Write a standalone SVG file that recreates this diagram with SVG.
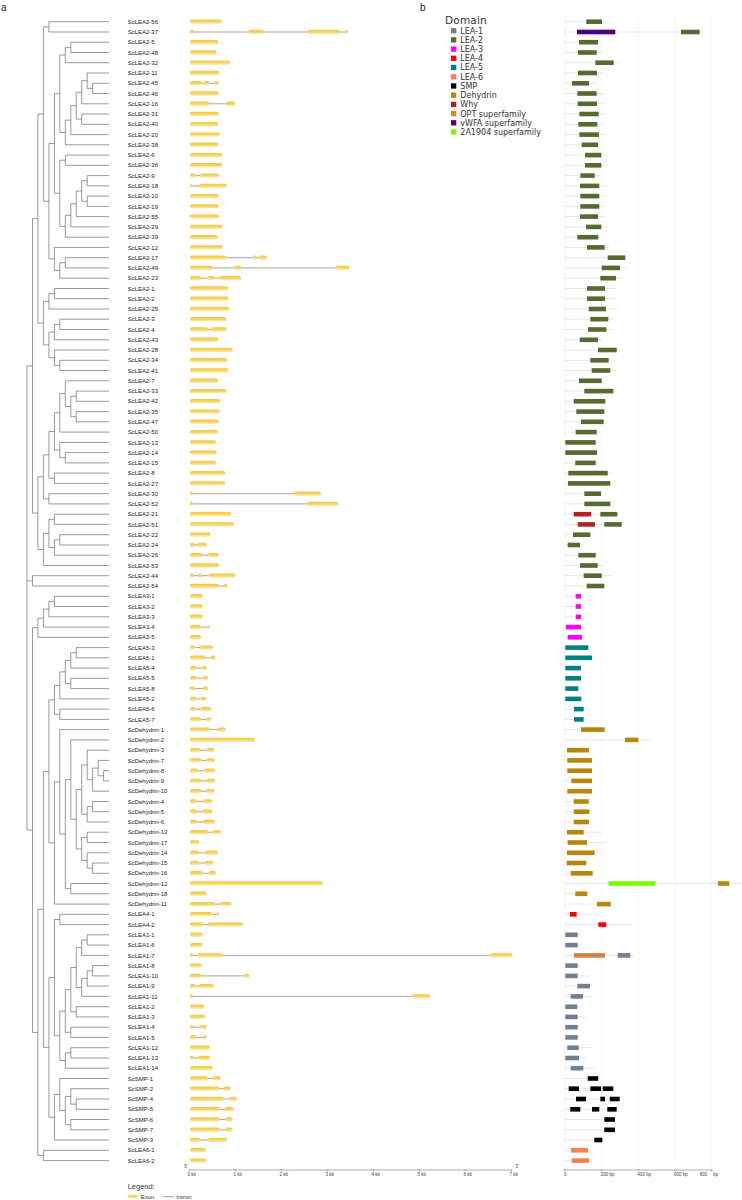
<svg xmlns="http://www.w3.org/2000/svg" width="742" height="1200" viewBox="0 0 742 1200">
<defs>
<linearGradient id="eg" x1="0" y1="0" x2="0" y2="1">
<stop offset="0" stop-color="#F2C744"/><stop offset="0.5" stop-color="#F6D564"/><stop offset="1" stop-color="#FCEFB8"/>
</linearGradient>
<style>
text{font-family:"Liberation Sans",Arial,sans-serif}
.r text{font-size:6px;fill:#222}
.e{fill:url(#eg)}
.i{stroke:#666;stroke-width:.6;fill:none}
.p{stroke:#e4e4e4;stroke-width:.9;fill:none}
.c1{fill:#708090}.c2{fill:#556B2F}.c3{fill:#FF00FF}.c4{fill:#FF0000}.c5{fill:#008080}.c6{fill:#FF7F50}.cs{fill:#000}.cd{fill:#B8860B}.wy{fill:#B22222}.co{fill:#CD853F}.vw{fill:#4B0082}.cg{fill:#7CFC00}
.tree{stroke:#555;stroke-width:.6;fill:none}
.ax{stroke:#999;stroke-width:.8;fill:none}
.tk{font-size:4.5px;fill:#444}
.grid{stroke:#efefef;stroke-width:.6;fill:none}
.lg text{font-family:"DejaVu Sans",sans-serif;font-size:8px;fill:#333}
</style>
</defs>
<rect width="742" height="1200" fill="#fff"/>
<text x="1" y="10.5" style="font-size:10px;fill:#222">a</text>
<text x="420" y="10.5" style="font-size:10px;fill:#222">b</text>
<g id="grid"><path class="grid" d="M565 14V1166M601.7 14V1166M638.3 14V1166M675 14V1166M711.7 14V1166"/></g>
<g id="tree" class="tree">
<path d="M109 21.7H48.9V32H109M109 42.2H70.8V52.5H109M70.8 47.35H65.3V62.7H109M109 83.3H92.6V93.5H109M109 73H87.2V88.4H92.6M87.2 80.7H81.7V103.8H109M109 114H81.7V124.3H109M81.7 92.25H76.2V119.15H81.7M76.2 105.7H70.8V134.6H109M70.8 120.15H65.3V144.8H109M65.3 55H59.8V132.5H65.3M109 155.1H65.3V165.3H109M109 175.6H87.2V185.9H109M109 196.1H87.2V206.4H109M87.2 180.75H81.7V201.25H87.2M81.7 191H76.2V216.6H109M76.2 203.8H70.8V226.9H109M70.8 215.35H65.3V237.2H109M65.3 160.2H59.8V226.3H65.3M59.8 93.75H54.4V193.25H59.8M109 257.7H65.3V267.9H109M65.3 262.8H59.8V278.2H109M109 247.4H54.4V270.5H59.8M54.4 143.5H48.9V258.95H54.4M48.9 26.85H43.4V201.2H48.9"/>
<path d="M109 288.5H54.4V298.7H109M54.4 293.6H48.9V309H109M109 319.2H59.8V329.5H109M59.8 324.35H54.4V339.8H109M109 360.3H59.8V370.5H109M109 350H54.4V365.4H59.8M54.4 332.1H48.9V357.7H54.4M48.9 301.3H43.4V344.9H48.9M43.4 114H37.9V323.1H43.4"/>
<path d="M109 391.1H76.2V401.3H109M109 411.6H76.2V421.8H109M76.2 396.2H70.8V416.7H76.2M109 380.8H65.3V406.45H70.8M65.3 393.6H59.8V432.1H109M109 452.6H65.3V462.9H109M109 442.4H59.8V457.75H65.3M59.8 412.85H54.4V450.1H59.8M109 473.1H54.4V483.4H109M54.4 431.5H48.9V478.25H54.4M109 493.7H48.9V503.9H109M48.9 454.9H43.4V498.8H48.9M109 514.2H54.4V524.4H109M109 534.7H59.8V545H109M59.8 539.85H54.4V555.2H109M54.4 519.3H48.9V547.5H54.4M48.9 533.4H43.4V565.5H109M43.4 476.85H37.9V549.45H43.4M37.9 218.55H32.5V513.15H37.9M109 575.7H32.5V586H109M32.5 365.85H27V830.05H32.5M27 580.9H32.5"/>
<path d="M109 596.3H54.4V606.5H109M54.4 601.4H48.9V616.8H109M48.9 609.1H43.4V627.1H109M43.4 618.1H37.9V637.3H109M109 647.6H76.2V657.8H109M76.2 652.7H70.8V668.1H109M109 678.3H70.8V688.6H109M70.8 660.4H65.3V683.45H70.8M65.3 671.9H59.8V698.9H109M109 709.1H59.8V719.4H109M59.8 685.4H54.4V714.25H59.8"/>
<path d="M109 770.7H103.6V780.9H109M109 760.4H98.1V775.8H103.6M98.1 768.1H92.6V791.2H109M109 750.2H87.2V779.65H92.6M109 801.5H92.6V811.7H109M92.6 806.6H87.2V822H109M87.2 764.9H81.7V814.3H87.2M109 832.2H87.2V842.5H109M109 863H92.6V873.3H109M109 852.8H87.2V868.15H92.6M87.2 837.35H81.7V860.5H87.2M81.7 789.6H76.2V848.9H81.7M109 739.9H70.8V819.25H76.2M109 883.5H70.8V893.8H109M70.8 779.6H65.3V888.65H70.8M109 729.6H59.8V834.1H65.3M59.8 781.85H54.4V904.1H109M54.4 699.8H48.9V842.95H54.4"/>
<path d="M109 914.3H59.8V924.6H109M109 934.8H87.2V945.1H109M87.2 939.95H81.7V955.4H109M109 965.6H92.6V975.9H109M92.6 970.75H87.2V986.1H109M87.2 978.4H81.7V996.4H109M81.7 947.7H76.2V987.4H81.7M109 1006.7H76.2V1016.9H109M76.2 967.55H70.8V1011.8H76.2M109 1027.2H70.8V1037.4H109M70.8 989.7H65.3V1032.3H70.8M109 1047.7H70.8V1058H109M70.8 1052.85H65.3V1068.2H109M65.3 1011H59.8V1060.5H65.3M59.8 919.45H54.4V1035.75H59.8M109 1099H76.2V1109.3H109M109 1088.7H70.8V1104.15H76.2M109 1119.5H70.8V1129.8H109M70.8 1096.4H65.3V1124.65H70.8M109 1078.5H59.8V1110.5H65.3M59.8 1094.5H54.4V1140H109M54.4 977.6H48.9V1117.25H54.4M48.9 771.4H43.4V1047.4H48.9M109 1150.3H43.4V1160.6H109M43.4 909.4H37.9V1155.45H43.4M37.9 627.7H32.5V1032.4H37.9"/>
</g>
<g id="rows">
<g id="ScLEA2-56" class="r" transform="translate(0,21.7)"><text x="127.7" y="2.1">ScLEA2-56</text><rect class="e" x="190" y="-2.2" width="31.7" height="4.4" rx="1.8"/><path class="p" d="M564.5 0H607.3"/><rect class="c2" x="586.3" y="-2.3" width="15.7" height="4.6"/></g>
<g id="ScLEA2-37" class="r" transform="translate(0,32)"><text x="127.7" y="2.1">ScLEA2-37</text><path class="i" d="M190 0H347.7"/><rect class="e" x="190" y="-2.2" width="4.3" height="4.4" rx="1.8"/><rect class="e" x="248.7" y="-2.2" width="15" height="4.4" rx="1.8"/><rect class="e" x="307.3" y="-2.2" width="32.4" height="4.4" rx="1.8"/><rect class="e" x="345.7" y="-2.2" width="2" height="4.4" rx="1"/><path class="p" d="M564.5 0H703.3"/><rect class="vw" x="577" y="-2.3" width="38.3" height="4.6"/><rect class="c2" x="681" y="-2.3" width="18.7" height="4.6"/></g>
<g id="ScLEA2-5" class="r" transform="translate(0,42.2)"><text x="127.7" y="2.1">ScLEA2-5</text><rect class="e" x="190" y="-2.2" width="28.3" height="4.4" rx="1.8"/><path class="p" d="M564.5 0H601.7"/><rect class="c2" x="579" y="-2.3" width="19" height="4.6"/></g>
<g id="ScLEA2-48" class="r" transform="translate(0,52.5)"><text x="127.7" y="2.1">ScLEA2-48</text><rect class="e" x="190" y="-2.2" width="26.7" height="4.4" rx="1.8"/><path class="p" d="M564.5 0H602.3"/><rect class="c2" x="578" y="-2.3" width="18.7" height="4.6"/></g>
<g id="ScLEA2-32" class="r" transform="translate(0,62.7)"><text x="127.7" y="2.1">ScLEA2-32</text><rect class="e" x="190" y="-2.2" width="40" height="4.4" rx="1.8"/><path class="p" d="M564.5 0H619.3"/><rect class="c2" x="595.3" y="-2.3" width="18.4" height="4.6"/></g>
<g id="ScLEA2-11" class="r" transform="translate(0,73)"><text x="127.7" y="2.1">ScLEA2-11</text><rect class="e" x="190" y="-2.2" width="29.3" height="4.4" rx="1.8"/><path class="p" d="M564.5 0H603.3"/><rect class="c2" x="578" y="-2.3" width="19" height="4.6"/></g>
<g id="ScLEA2-45" class="r" transform="translate(0,83.3)"><text x="127.7" y="2.1">ScLEA2-45</text><path class="i" d="M190 0H218.7"/><rect class="e" x="190" y="-2.2" width="11.7" height="4.4" rx="1.8"/><rect class="e" x="204" y="-2.2" width="5.3" height="4.4" rx="1.8"/><rect class="e" x="214.3" y="-2.2" width="4.4" height="4.4" rx="1.8"/><path class="p" d="M564.5 0H596.7"/><rect class="c2" x="572" y="-2.3" width="17" height="4.6"/></g>
<g id="ScLEA2-46" class="r" transform="translate(0,93.5)"><text x="127.7" y="2.1">ScLEA2-46</text><rect class="e" x="190" y="-2.2" width="29" height="4.4" rx="1.8"/><path class="p" d="M564.5 0H604"/><rect class="c2" x="577.3" y="-2.3" width="19.4" height="4.6"/></g>
<g id="ScLEA2-16" class="r" transform="translate(0,103.8)"><text x="127.7" y="2.1">ScLEA2-16</text><path class="i" d="M190 0H235"/><rect class="e" x="190" y="-2.2" width="19.3" height="4.4" rx="1.8"/><rect class="e" x="226" y="-2.2" width="9" height="4.4" rx="1.8"/><path class="p" d="M564.5 0H604.3"/><rect class="c2" x="577.7" y="-2.3" width="19.3" height="4.6"/></g>
<g id="ScLEA2-31" class="r" transform="translate(0,114)"><text x="127.7" y="2.1">ScLEA2-31</text><rect class="e" x="190" y="-2.2" width="28.7" height="4.4" rx="1.8"/><path class="p" d="M564.5 0H605"/><rect class="c2" x="579.3" y="-2.3" width="19.4" height="4.6"/></g>
<g id="ScLEA2-40" class="r" transform="translate(0,124.3)"><text x="127.7" y="2.1">ScLEA2-40</text><rect class="e" x="190" y="-2.2" width="28.3" height="4.4" rx="1.8"/><path class="p" d="M564.5 0H604.3"/><rect class="c2" x="578.3" y="-2.3" width="19" height="4.6"/></g>
<g id="ScLEA2-20" class="r" transform="translate(0,134.6)"><text x="127.7" y="2.1">ScLEA2-20</text><rect class="e" x="190" y="-2.2" width="30" height="4.4" rx="1.8"/><path class="p" d="M564.5 0H605.3"/><rect class="c2" x="579.3" y="-2.3" width="19.7" height="4.6"/></g>
<g id="ScLEA2-38" class="r" transform="translate(0,144.8)"><text x="127.7" y="2.1">ScLEA2-38</text><rect class="e" x="190" y="-2.2" width="28.3" height="4.4" rx="1.8"/><path class="p" d="M564.5 0H600.7"/><rect class="c2" x="581.7" y="-2.3" width="16.3" height="4.6"/></g>
<g id="ScLEA2-6" class="r" transform="translate(0,155.1)"><text x="127.7" y="2.1">ScLEA2-6</text><rect class="e" x="190" y="-2.2" width="32.3" height="4.4" rx="1.8"/><path class="p" d="M564.5 0H606.7"/><rect class="c2" x="585" y="-2.3" width="16.3" height="4.6"/></g>
<g id="ScLEA2-36" class="r" transform="translate(0,165.3)"><text x="127.7" y="2.1">ScLEA2-36</text><rect class="e" x="190" y="-2.2" width="32.3" height="4.4" rx="1.8"/><path class="p" d="M564.5 0H607.3"/><rect class="c2" x="585" y="-2.3" width="16.3" height="4.6"/></g>
<g id="ScLEA2-9" class="r" transform="translate(0,175.6)"><text x="127.7" y="2.1">ScLEA2-9</text><path class="i" d="M190 0H218.7"/><rect class="e" x="190" y="-2.2" width="6" height="4.4" rx="1.8"/><rect class="e" x="200" y="-2.2" width="18.7" height="4.4" rx="1.8"/><path class="p" d="M564.5 0H600.7"/><rect class="c2" x="580.3" y="-2.3" width="14.4" height="4.6"/></g>
<g id="ScLEA2-18" class="r" transform="translate(0,185.9)"><text x="127.7" y="2.1">ScLEA2-18</text><path class="i" d="M190 0H226.7"/><rect class="e" x="190" y="-2.2" width="1.3" height="4.4" rx=".6"/><rect class="e" x="199" y="-2.2" width="27.7" height="4.4" rx="1.8"/><path class="p" d="M564.5 0H606.7"/><rect class="c2" x="580" y="-2.3" width="19.3" height="4.6"/></g>
<g id="ScLEA2-10" class="r" transform="translate(0,196.1)"><text x="127.7" y="2.1">ScLEA2-10</text><rect class="e" x="190" y="-2.2" width="28.7" height="4.4" rx="1.8"/><path class="p" d="M564.5 0H606.7"/><rect class="c2" x="580.3" y="-2.3" width="19" height="4.6"/></g>
<g id="ScLEA2-19" class="r" transform="translate(0,206.4)"><text x="127.7" y="2.1">ScLEA2-19</text><rect class="e" x="190" y="-2.2" width="28.7" height="4.4" rx="1.8"/><path class="p" d="M564.5 0H603.7"/><rect class="c2" x="580.3" y="-2.3" width="19" height="4.6"/></g>
<g id="ScLEA2-55" class="r" transform="translate(0,216.6)"><text x="127.7" y="2.1">ScLEA2-55</text><rect class="e" x="190" y="-2.2" width="29" height="4.4" rx="1.8"/><path class="p" d="M564.5 0H603.7"/><rect class="c2" x="580" y="-2.3" width="18" height="4.6"/></g>
<g id="ScLEA2-29" class="r" transform="translate(0,226.9)"><text x="127.7" y="2.1">ScLEA2-29</text><rect class="e" x="190" y="-2.2" width="32.7" height="4.4" rx="1.8"/><path class="p" d="M564.5 0H609"/><rect class="c2" x="586" y="-2.3" width="15.3" height="4.6"/></g>
<g id="ScLEA2-39" class="r" transform="translate(0,237.2)"><text x="127.7" y="2.1">ScLEA2-39</text><rect class="e" x="190" y="-2.2" width="27.7" height="4.4" rx="1.8"/><path class="p" d="M564.5 0H601"/><rect class="c2" x="577.3" y="-2.3" width="21" height="4.6"/></g>
<g id="ScLEA2-12" class="r" transform="translate(0,247.4)"><text x="127.7" y="2.1">ScLEA2-12</text><rect class="e" x="190" y="-2.2" width="32.7" height="4.4" rx="1.8"/><path class="p" d="M564.5 0H609.3"/><rect class="c2" x="587" y="-2.3" width="17.7" height="4.6"/></g>
<g id="ScLEA2-17" class="r" transform="translate(0,257.7)"><text x="127.7" y="2.1">ScLEA2-17</text><path class="i" d="M190 0H266.7"/><rect class="e" x="190" y="-2.2" width="36" height="4.4" rx="1.8"/><rect class="e" x="254" y="-2.2" width="2.7" height="4.4" rx="1.3"/><rect class="e" x="259.3" y="-2.2" width="7.4" height="4.4" rx="1.8"/><path class="p" d="M564.5 0H626.7"/><rect class="c2" x="607.7" y="-2.3" width="17.6" height="4.6"/></g>
<g id="ScLEA2-49" class="r" transform="translate(0,267.9)"><text x="127.7" y="2.1">ScLEA2-49</text><path class="i" d="M190 0H349.3"/><rect class="e" x="190" y="-2.2" width="22.7" height="4.4" rx="1.8"/><rect class="e" x="234" y="-2.2" width="7.7" height="4.4" rx="1.8"/><rect class="e" x="336" y="-2.2" width="13.3" height="4.4" rx="1.8"/><path class="p" d="M564.5 0H626.7"/><rect class="c2" x="601.7" y="-2.3" width="18.3" height="4.6"/></g>
<g id="ScLEA2-23" class="r" transform="translate(0,278.2)"><text x="127.7" y="2.1">ScLEA2-23</text><path class="i" d="M190 0H241"/><rect class="e" x="190" y="-2.2" width="11.7" height="4.4" rx="1.8"/><rect class="e" x="207.3" y="-2.2" width="7.7" height="4.4" rx="1.8"/><rect class="e" x="219.3" y="-2.2" width="21.7" height="4.4" rx="1.8"/><path class="p" d="M564.5 0H622.3"/><rect class="c2" x="600.3" y="-2.3" width="15.7" height="4.6"/></g>
<g id="ScLEA2-1" class="r" transform="translate(0,288.5)"><text x="127.7" y="2.1">ScLEA2-1</text><rect class="e" x="190" y="-2.2" width="38.3" height="4.4" rx="1.8"/><path class="p" d="M564.5 0H616.7"/><rect class="c2" x="587" y="-2.3" width="18" height="4.6"/></g>
<g id="ScLEA2-2" class="r" transform="translate(0,298.7)"><text x="127.7" y="2.1">ScLEA2-2</text><rect class="e" x="190" y="-2.2" width="38.3" height="4.4" rx="1.8"/><path class="p" d="M564.5 0H616.7"/><rect class="c2" x="587" y="-2.3" width="18" height="4.6"/></g>
<g id="ScLEA2-25" class="r" transform="translate(0,309)"><text x="127.7" y="2.1">ScLEA2-25</text><rect class="e" x="190" y="-2.2" width="39.3" height="4.4" rx="1.8"/><path class="p" d="M564.5 0H617.7"/><rect class="c2" x="588.7" y="-2.3" width="17.3" height="4.6"/></g>
<g id="ScLEA2-3" class="r" transform="translate(0,319.2)"><text x="127.7" y="2.1">ScLEA2-3</text><rect class="e" x="190" y="-2.2" width="36.3" height="4.4" rx="1.8"/><path class="p" d="M564.5 0H613.7"/><rect class="c2" x="590.3" y="-2.3" width="18" height="4.6"/></g>
<g id="ScLEA2-4" class="r" transform="translate(0,329.5)"><text x="127.7" y="2.1">ScLEA2-4</text><path class="i" d="M190 0H226.3"/><rect class="e" x="190" y="-2.2" width="18" height="4.4" rx="1.8"/><rect class="e" x="210.7" y="-2.2" width="15.6" height="4.4" rx="1.8"/><path class="p" d="M564.5 0H611"/><rect class="c2" x="588" y="-2.3" width="18.3" height="4.6"/></g>
<g id="ScLEA2-43" class="r" transform="translate(0,339.8)"><text x="127.7" y="2.1">ScLEA2-43</text><rect class="e" x="190" y="-2.2" width="28.3" height="4.4" rx="1.8"/><path class="p" d="M564.5 0H602.7"/><rect class="c2" x="579.7" y="-2.3" width="18.3" height="4.6"/></g>
<g id="ScLEA2-28" class="r" transform="translate(0,350)"><text x="127.7" y="2.1">ScLEA2-28</text><rect class="e" x="190" y="-2.2" width="42.7" height="4.4" rx="1.8"/><path class="p" d="M564.5 0H622.3"/><rect class="c2" x="598" y="-2.3" width="18.7" height="4.6"/></g>
<g id="ScLEA2-34" class="r" transform="translate(0,360.3)"><text x="127.7" y="2.1">ScLEA2-34</text><rect class="e" x="190" y="-2.2" width="37.3" height="4.4" rx="1.8"/><path class="p" d="M564.5 0H615"/><rect class="c2" x="590.3" y="-2.3" width="18.4" height="4.6"/></g>
<g id="ScLEA2-41" class="r" transform="translate(0,370.5)"><text x="127.7" y="2.1">ScLEA2-41</text><rect class="e" x="190" y="-2.2" width="38" height="4.4" rx="1.8"/><path class="p" d="M564.5 0H616"/><rect class="c2" x="591.7" y="-2.3" width="18.6" height="4.6"/></g>
<g id="ScLEA2-7" class="r" transform="translate(0,380.8)"><text x="127.7" y="2.1">ScLEA2-7</text><rect class="e" x="190" y="-2.2" width="28" height="4.4" rx="1.8"/><path class="p" d="M564.5 0H601.7"/><rect class="c2" x="579" y="-2.3" width="22.7" height="4.6"/></g>
<g id="ScLEA2-33" class="r" transform="translate(0,391.1)"><text x="127.7" y="2.1">ScLEA2-33</text><rect class="e" x="190" y="-2.2" width="36.7" height="4.4" rx="1.8"/><path class="p" d="M564.5 0H614.3"/><rect class="c2" x="584.3" y="-2.3" width="29" height="4.6"/></g>
<g id="ScLEA2-42" class="r" transform="translate(0,401.3)"><text x="127.7" y="2.1">ScLEA2-42</text><rect class="e" x="190" y="-2.2" width="30.3" height="4.4" rx="1.8"/><path class="p" d="M564.5 0H605.7"/><rect class="c2" x="573.7" y="-2.3" width="31.6" height="4.6"/></g>
<g id="ScLEA2-35" class="r" transform="translate(0,411.6)"><text x="127.7" y="2.1">ScLEA2-35</text><rect class="e" x="190" y="-2.2" width="29.7" height="4.4" rx="1.8"/><path class="p" d="M564.5 0H605"/><rect class="c2" x="576.3" y="-2.3" width="28" height="4.6"/></g>
<g id="ScLEA2-47" class="r" transform="translate(0,421.8)"><text x="127.7" y="2.1">ScLEA2-47</text><rect class="e" x="190" y="-2.2" width="29" height="4.4" rx="1.8"/><path class="p" d="M564.5 0H604"/><rect class="c2" x="581" y="-2.3" width="22.7" height="4.6"/></g>
<g id="ScLEA2-50" class="r" transform="translate(0,432.1)"><text x="127.7" y="2.1">ScLEA2-50</text><rect class="e" x="190" y="-2.2" width="27.7" height="4.4" rx="1.8"/><path class="p" d="M564.5 0H601.7"/><rect class="c2" x="575.7" y="-2.3" width="21" height="4.6"/></g>
<g id="ScLEA2-13" class="r" transform="translate(0,442.4)"><text x="127.7" y="2.1">ScLEA2-13</text><rect class="e" x="190" y="-2.2" width="26" height="4.4" rx="1.8"/><path class="p" d="M564.5 0H599.3"/><rect class="c2" x="565.3" y="-2.3" width="30.4" height="4.6"/></g>
<g id="ScLEA2-14" class="r" transform="translate(0,452.6)"><text x="127.7" y="2.1">ScLEA2-14</text><rect class="e" x="190" y="-2.2" width="26.7" height="4.4" rx="1.8"/><path class="p" d="M564.5 0H597.7"/><rect class="c2" x="565.3" y="-2.3" width="31.7" height="4.6"/></g>
<g id="ScLEA2-15" class="r" transform="translate(0,462.9)"><text x="127.7" y="2.1">ScLEA2-15</text><rect class="e" x="190" y="-2.2" width="26" height="4.4" rx="1.8"/><path class="p" d="M564.5 0H599.3"/><rect class="c2" x="575.3" y="-2.3" width="20.4" height="4.6"/></g>
<g id="ScLEA2-8" class="r" transform="translate(0,473.1)"><text x="127.7" y="2.1">ScLEA2-8</text><rect class="e" x="190" y="-2.2" width="35.3" height="4.4" rx="1.8"/><path class="p" d="M564.5 0H612.3"/><rect class="c2" x="568.3" y="-2.3" width="39.4" height="4.6"/></g>
<g id="ScLEA2-27" class="r" transform="translate(0,483.4)"><text x="127.7" y="2.1">ScLEA2-27</text><rect class="e" x="190" y="-2.2" width="35" height="4.4" rx="1.8"/><path class="p" d="M564.5 0H611"/><rect class="c2" x="568" y="-2.3" width="42.3" height="4.6"/></g>
<g id="ScLEA2-30" class="r" transform="translate(0,493.7)"><text x="127.7" y="2.1">ScLEA2-30</text><path class="i" d="M190 0H321"/><rect class="e" x="190" y="-2.2" width="2.7" height="4.4" rx="1.3"/><rect class="e" x="294" y="-2.2" width="27" height="4.4" rx="1.8"/><path class="p" d="M564.5 0H601"/><rect class="c2" x="584.3" y="-2.3" width="16.7" height="4.6"/></g>
<g id="ScLEA2-52" class="r" transform="translate(0,503.9)"><text x="127.7" y="2.1">ScLEA2-52</text><path class="i" d="M190 0H338"/><rect class="e" x="190" y="-2.2" width="2.7" height="4.4" rx="1.3"/><rect class="e" x="307" y="-2.2" width="31" height="4.4" rx="1.8"/><path class="p" d="M564.5 0H610.3"/><rect class="c2" x="584.3" y="-2.3" width="26" height="4.6"/></g>
<g id="ScLEA2-21" class="r" transform="translate(0,514.2)"><text x="127.7" y="2.1">ScLEA2-21</text><rect class="e" x="190" y="-2.2" width="41.3" height="4.4" rx="1.8"/><path class="p" d="M564.5 0H618.3"/><rect class="wy" x="573.7" y="-2.3" width="17.6" height="4.6"/><rect class="c2" x="600.3" y="-2.3" width="17" height="4.6"/></g>
<g id="ScLEA2-51" class="r" transform="translate(0,524.4)"><text x="127.7" y="2.1">ScLEA2-51</text><rect class="e" x="190" y="-2.2" width="44" height="4.4" rx="1.8"/><path class="p" d="M564.5 0H621.7"/><rect class="wy" x="577.7" y="-2.3" width="17.3" height="4.6"/><rect class="c2" x="604.3" y="-2.3" width="17.4" height="4.6"/></g>
<g id="ScLEA2-22" class="r" transform="translate(0,534.7)"><text x="127.7" y="2.1">ScLEA2-22</text><rect class="e" x="190" y="-2.2" width="20.3" height="4.4" rx="1.8"/><path class="p" d="M564.5 0H591.7"/><rect class="c2" x="573" y="-2.3" width="17.3" height="4.6"/></g>
<g id="ScLEA2-24" class="r" transform="translate(0,545)"><text x="127.7" y="2.1">ScLEA2-24</text><path class="i" d="M190 0H206.7"/><rect class="e" x="190" y="-2.2" width="4.7" height="4.4" rx="1.8"/><rect class="e" x="197" y="-2.2" width="9.7" height="4.4" rx="1.8"/><path class="p" d="M564.5 0H585"/><rect class="c2" x="567.7" y="-2.3" width="12.3" height="4.6"/></g>
<g id="ScLEA2-26" class="r" transform="translate(0,555.2)"><text x="127.7" y="2.1">ScLEA2-26</text><path class="i" d="M190 0H218.7"/><rect class="e" x="190" y="-2.2" width="12.7" height="4.4" rx="1.8"/><rect class="e" x="208" y="-2.2" width="10.7" height="4.4" rx="1.8"/><path class="p" d="M564.5 0H598.3"/><rect class="c2" x="578.3" y="-2.3" width="17.4" height="4.6"/></g>
<g id="ScLEA2-53" class="r" transform="translate(0,565.5)"><text x="127.7" y="2.1">ScLEA2-53</text><rect class="e" x="190" y="-2.2" width="29.3" height="4.4" rx="1.8"/><path class="p" d="M564.5 0H604.3"/><rect class="c2" x="580" y="-2.3" width="17.7" height="4.6"/></g>
<g id="ScLEA2-44" class="r" transform="translate(0,575.7)"><text x="127.7" y="2.1">ScLEA2-44</text><path class="i" d="M190 0H235.3"/><rect class="e" x="190" y="-2.2" width="4" height="4.4" rx="1.8"/><rect class="e" x="198.3" y="-2.2" width="3.4" height="4.4" rx="1.6"/><rect class="e" x="208.7" y="-2.2" width="26.6" height="4.4" rx="1.8"/><path class="p" d="M564.5 0H611.7"/><rect class="c2" x="583.7" y="-2.3" width="18" height="4.6"/></g>
<g id="ScLEA2-54" class="r" transform="translate(0,586)"><text x="127.7" y="2.1">ScLEA2-54</text><path class="i" d="M190 0H227.3"/><rect class="e" x="190" y="-2.2" width="28.7" height="4.4" rx="1.8"/><rect class="e" x="224" y="-2.2" width="3.3" height="4.4" rx="1.6"/><path class="p" d="M564.5 0H608.3"/><rect class="c2" x="586.7" y="-2.3" width="17.6" height="4.6"/></g>
<g id="ScLEA3-1" class="r" transform="translate(0,596.3)"><text x="127.7" y="2.1">ScLEA3-1</text><rect class="e" x="190" y="-2.2" width="12.7" height="4.4" rx="1.8"/><path class="p" d="M564.5 0H581"/><rect class="c3" x="575.7" y="-2.3" width="5.3" height="4.6"/></g>
<g id="ScLEA3-2" class="r" transform="translate(0,606.5)"><text x="127.7" y="2.1">ScLEA3-2</text><rect class="e" x="190" y="-2.2" width="12.7" height="4.4" rx="1.8"/><path class="p" d="M564.5 0H581"/><rect class="c3" x="575.7" y="-2.3" width="5.3" height="4.6"/></g>
<g id="ScLEA3-3" class="r" transform="translate(0,616.8)"><text x="127.7" y="2.1">ScLEA3-3</text><rect class="e" x="190" y="-2.2" width="12.7" height="4.4" rx="1.8"/><path class="p" d="M564.5 0H581"/><rect class="c3" x="575.7" y="-2.3" width="5.3" height="4.6"/></g>
<g id="ScLEA3-4" class="r" transform="translate(0,627.1)"><text x="127.7" y="2.1">ScLEA3-4</text><path class="i" d="M190 0H209.3"/><rect class="e" x="190" y="-2.2" width="10.7" height="4.4" rx="1.8"/><rect class="e" x="208" y="-2.2" width="1.3" height="4.4" rx=".6"/><path class="p" d="M564.5 0H581.7"/><rect class="c3" x="566" y="-2.3" width="15" height="4.6"/></g>
<g id="ScLEA3-5" class="r" transform="translate(0,637.3)"><text x="127.7" y="2.1">ScLEA3-5</text><rect class="e" x="190" y="-2.2" width="11" height="4.4" rx="1.8"/><path class="p" d="M564.5 0H582"/><rect class="c3" x="567.7" y="-2.3" width="14.3" height="4.6"/></g>
<g id="ScLEA5-3" class="r" transform="translate(0,647.6)"><text x="127.7" y="2.1">ScLEA5-3</text><path class="i" d="M190 0H212.7"/><rect class="e" x="190" y="-2.2" width="4.7" height="4.4" rx="1.8"/><rect class="e" x="200" y="-2.2" width="12.7" height="4.4" rx="1.8"/><path class="p" d="M564.5 0H588.3"/><rect class="c5" x="565.3" y="-2.3" width="23" height="4.6"/></g>
<g id="ScLEA5-1" class="r" transform="translate(0,657.8)"><text x="127.7" y="2.1">ScLEA5-1</text><path class="i" d="M190 0H215.3"/><rect class="e" x="190" y="-2.2" width="15.3" height="4.4" rx="1.8"/><rect class="e" x="210.7" y="-2.2" width="4.6" height="4.4" rx="1.8"/><path class="p" d="M564.5 0H592"/><rect class="c5" x="565.3" y="-2.3" width="26.7" height="4.6"/></g>
<g id="ScLEA5-4" class="r" transform="translate(0,668.1)"><text x="127.7" y="2.1">ScLEA5-4</text><path class="i" d="M190 0H206.7"/><rect class="e" x="190" y="-2.2" width="7" height="4.4" rx="1.8"/><rect class="e" x="201.7" y="-2.2" width="5" height="4.4" rx="1.8"/><path class="p" d="M564.5 0H581"/><rect class="c5" x="565.3" y="-2.3" width="15.7" height="4.6"/></g>
<g id="ScLEA5-5" class="r" transform="translate(0,678.3)"><text x="127.7" y="2.1">ScLEA5-5</text><path class="i" d="M190 0H208"/><rect class="e" x="190" y="-2.2" width="7.3" height="4.4" rx="1.8"/><rect class="e" x="202.7" y="-2.2" width="5.3" height="4.4" rx="1.8"/><path class="p" d="M564.5 0H581"/><rect class="c5" x="565.3" y="-2.3" width="15.7" height="4.6"/></g>
<g id="ScLEA5-8" class="r" transform="translate(0,688.6)"><text x="127.7" y="2.1">ScLEA5-8</text><path class="i" d="M190 0H208"/><rect class="e" x="190" y="-2.2" width="4.7" height="4.4" rx="1.8"/><rect class="e" x="202.7" y="-2.2" width="5.3" height="4.4" rx="1.8"/><path class="p" d="M564.5 0H578.3"/><rect class="c5" x="565.3" y="-2.3" width="13" height="4.6"/></g>
<g id="ScLEA5-2" class="r" transform="translate(0,698.9)"><text x="127.7" y="2.1">ScLEA5-2</text><path class="i" d="M190 0H206"/><rect class="e" x="190" y="-2.2" width="7" height="4.4" rx="1.8"/><rect class="e" x="201" y="-2.2" width="5" height="4.4" rx="1.8"/><path class="p" d="M564.5 0H581.3"/><rect class="c5" x="565.3" y="-2.3" width="16" height="4.6"/></g>
<g id="ScLEA5-6" class="r" transform="translate(0,709.1)"><text x="127.7" y="2.1">ScLEA5-6</text><path class="i" d="M190 0H211.3"/><rect class="e" x="190" y="-2.2" width="5.3" height="4.4" rx="1.8"/><rect class="e" x="200.7" y="-2.2" width="10.6" height="4.4" rx="1.8"/><path class="p" d="M564.5 0H590"/><rect class="c5" x="574" y="-2.3" width="9.7" height="4.6"/></g>
<g id="ScLEA5-7" class="r" transform="translate(0,719.4)"><text x="127.7" y="2.1">ScLEA5-7</text><path class="i" d="M190 0H211.3"/><rect class="e" x="190" y="-2.2" width="11" height="4.4" rx="1.8"/><rect class="e" x="206" y="-2.2" width="5.3" height="4.4" rx="1.8"/><path class="p" d="M564.5 0H586.7"/><rect class="c5" x="574" y="-2.3" width="9.7" height="4.6"/></g>
<g id="ScDehydrin-1" class="r" transform="translate(0,729.6)"><text x="127.7" y="2.1">ScDehydrin-1</text><path class="i" d="M190 0H225.7"/><rect class="e" x="190" y="-2.2" width="20" height="4.4" rx="1.8"/><rect class="e" x="217" y="-2.2" width="8.7" height="4.4" rx="1.8"/><path class="p" d="M564.5 0H604.7"/><rect class="cd" x="581" y="-2.3" width="23.7" height="4.6"/></g>
<g id="ScDehydrin-2" class="r" transform="translate(0,739.9)"><text x="127.7" y="2.1">ScDehydrin-2</text><rect class="e" x="190" y="-2.2" width="65" height="4.4" rx="1.8"/><path class="p" d="M564.5 0H652.3"/><rect class="cd" x="625" y="-2.3" width="13.3" height="4.6"/></g>
<g id="ScDehydrin-3" class="r" transform="translate(0,750.2)"><text x="127.7" y="2.1">ScDehydrin-3</text><path class="i" d="M190 0H214"/><rect class="e" x="190" y="-2.2" width="10" height="4.4" rx="1.8"/><rect class="e" x="206.7" y="-2.2" width="7.3" height="4.4" rx="1.8"/><path class="p" d="M564.5 0H589"/><rect class="cd" x="567" y="-2.3" width="22" height="4.6"/></g>
<g id="ScDehydrin-7" class="r" transform="translate(0,760.4)"><text x="127.7" y="2.1">ScDehydrin-7</text><path class="i" d="M190 0H215"/><rect class="e" x="190" y="-2.2" width="11.7" height="4.4" rx="1.8"/><rect class="e" x="206.7" y="-2.2" width="8.3" height="4.4" rx="1.8"/><path class="p" d="M564.5 0H592"/><rect class="cd" x="567.3" y="-2.3" width="24.7" height="4.6"/></g>
<g id="ScDehydrin-8" class="r" transform="translate(0,770.7)"><text x="127.7" y="2.1">ScDehydrin-8</text><path class="i" d="M190 0H215"/><rect class="e" x="190" y="-2.2" width="8.3" height="4.4" rx="1.8"/><rect class="e" x="204" y="-2.2" width="11" height="4.4" rx="1.8"/><path class="p" d="M564.5 0H592"/><rect class="cd" x="567.3" y="-2.3" width="24.7" height="4.6"/></g>
<g id="ScDehydrin-9" class="r" transform="translate(0,780.9)"><text x="127.7" y="2.1">ScDehydrin-9</text><path class="i" d="M190 0H215"/><rect class="e" x="190" y="-2.2" width="11.3" height="4.4" rx="1.8"/><rect class="e" x="206.7" y="-2.2" width="8.3" height="4.4" rx="1.8"/><path class="p" d="M564.5 0H592"/><rect class="cd" x="571.3" y="-2.3" width="20.7" height="4.6"/></g>
<g id="ScDehydrin-10" class="r" transform="translate(0,791.2)"><text x="127.7" y="2.1">ScDehydrin-10</text><path class="i" d="M190 0H214.3"/><rect class="e" x="190" y="-2.2" width="11.3" height="4.4" rx="1.8"/><rect class="e" x="206" y="-2.2" width="8.3" height="4.4" rx="1.8"/><path class="p" d="M564.5 0H592"/><rect class="cd" x="567.3" y="-2.3" width="24.7" height="4.6"/></g>
<g id="ScDehydrin-4" class="r" transform="translate(0,801.5)"><text x="127.7" y="2.1">ScDehydrin-4</text><path class="i" d="M190 0H212"/><rect class="e" x="190" y="-2.2" width="7.3" height="4.4" rx="1.8"/><rect class="e" x="202.7" y="-2.2" width="9.3" height="4.4" rx="1.8"/><path class="p" d="M564.5 0H591"/><rect class="cd" x="573.7" y="-2.3" width="15" height="4.6"/></g>
<g id="ScDehydrin-5" class="r" transform="translate(0,811.7)"><text x="127.7" y="2.1">ScDehydrin-5</text><path class="i" d="M190 0H212.3"/><rect class="e" x="190" y="-2.2" width="7.7" height="4.4" rx="1.8"/><rect class="e" x="202" y="-2.2" width="10.3" height="4.4" rx="1.8"/><path class="p" d="M564.5 0H591.7"/><rect class="cd" x="573.7" y="-2.3" width="15.6" height="4.6"/></g>
<g id="ScDehydrin-6" class="r" transform="translate(0,822)"><text x="127.7" y="2.1">ScDehydrin-6</text><path class="i" d="M190 0H214.7"/><rect class="e" x="190" y="-2.2" width="7.3" height="4.4" rx="1.8"/><rect class="e" x="202.7" y="-2.2" width="12" height="4.4" rx="1.8"/><path class="p" d="M564.5 0H591"/><rect class="cd" x="573.7" y="-2.3" width="15.3" height="4.6"/></g>
<g id="ScDehydrin-13" class="r" transform="translate(0,832.2)"><text x="127.7" y="2.1">ScDehydrin-13</text><path class="i" d="M190 0H220.7"/><rect class="e" x="190" y="-2.2" width="18" height="4.4" rx="1.8"/><rect class="e" x="212.3" y="-2.2" width="8.4" height="4.4" rx="1.8"/><path class="p" d="M564.5 0H602.3"/><rect class="cd" x="567" y="-2.3" width="16.7" height="4.6"/></g>
<g id="ScDehydrin-17" class="r" transform="translate(0,842.5)"><text x="127.7" y="2.1">ScDehydrin-17</text><rect class="e" x="190" y="-2.2" width="9.3" height="4.4" rx="1.8"/><path class="p" d="M564.5 0H606.7"/><rect class="cd" x="567.7" y="-2.3" width="19.3" height="4.6"/></g>
<g id="ScDehydrin-14" class="r" transform="translate(0,852.8)"><text x="127.7" y="2.1">ScDehydrin-14</text><path class="i" d="M190 0H217.7"/><rect class="e" x="190" y="-2.2" width="9" height="4.4" rx="1.8"/><rect class="e" x="204.7" y="-2.2" width="13" height="4.4" rx="1.8"/><path class="p" d="M564.5 0H597"/><rect class="cd" x="567" y="-2.3" width="27.7" height="4.6"/></g>
<g id="ScDehydrin-15" class="r" transform="translate(0,863)"><text x="127.7" y="2.1">ScDehydrin-15</text><path class="i" d="M190 0H213.3"/><rect class="e" x="190" y="-2.2" width="9" height="4.4" rx="1.8"/><rect class="e" x="204.7" y="-2.2" width="8.6" height="4.4" rx="1.8"/><path class="p" d="M564.5 0H588.3"/><rect class="cd" x="566.7" y="-2.3" width="19.6" height="4.6"/></g>
<g id="ScDehydrin-16" class="r" transform="translate(0,873.3)"><text x="127.7" y="2.1">ScDehydrin-16</text><path class="i" d="M190 0H216"/><rect class="e" x="190" y="-2.2" width="12.7" height="4.4" rx="1.8"/><rect class="e" x="208.7" y="-2.2" width="7.3" height="4.4" rx="1.8"/><path class="p" d="M564.5 0H593"/><rect class="cd" x="570.7" y="-2.3" width="22" height="4.6"/></g>
<g id="ScDehydrin-12" class="r" transform="translate(0,883.5)"><text x="127.7" y="2.1">ScDehydrin-12</text><rect class="e" x="190" y="-2.2" width="132.7" height="4.4" rx="1.8"/><path class="p" d="M564.5 0H741.7"/><rect class="cg" x="608.7" y="-2.3" width="46.6" height="4.6"/><rect class="cd" x="718" y="-2.3" width="11.3" height="4.6"/></g>
<g id="ScDehydrin-18" class="r" transform="translate(0,893.8)"><text x="127.7" y="2.1">ScDehydrin-18</text><rect class="e" x="190" y="-2.2" width="16.7" height="4.4" rx="1.8"/><path class="p" d="M564.5 0H587.3"/><rect class="cd" x="575.3" y="-2.3" width="12" height="4.6"/></g>
<g id="ScDehydrin-11" class="r" transform="translate(0,904.1)"><text x="127.7" y="2.1">ScDehydrin-11</text><path class="i" d="M190 0H231.3"/><rect class="e" x="190" y="-2.2" width="25" height="4.4" rx="1.8"/><rect class="e" x="220" y="-2.2" width="11.3" height="4.4" rx="1.8"/><path class="p" d="M564.5 0H613.3"/><rect class="cd" x="597" y="-2.3" width="13.7" height="4.6"/></g>
<g id="ScLEA4-1" class="r" transform="translate(0,914.3)"><text x="127.7" y="2.1">ScLEA4-1</text><path class="i" d="M190 0H218.7"/><rect class="e" x="190" y="-2.2" width="22" height="4.4" rx="1.8"/><rect class="e" x="217" y="-2.2" width="1.7" height="4.4" rx=".8"/><path class="p" d="M564.5 0H597.7"/><rect class="c4" x="570" y="-2.3" width="6.7" height="4.6"/></g>
<g id="ScLEA4-2" class="r" transform="translate(0,924.6)"><text x="127.7" y="2.1">ScLEA4-2</text><path class="i" d="M190 0H243"/><rect class="e" x="190" y="-2.2" width="13.3" height="4.4" rx="1.8"/><rect class="e" x="207.7" y="-2.2" width="35.3" height="4.4" rx="1.8"/><path class="p" d="M564.5 0H631.7"/><rect class="c4" x="598.3" y="-2.3" width="8" height="4.6"/></g>
<g id="ScLEA1-1" class="r" transform="translate(0,934.8)"><text x="127.7" y="2.1">ScLEA1-1</text><rect class="e" x="190" y="-2.2" width="12.7" height="4.4" rx="1.8"/><path class="p" d="M564.5 0H581.7"/><rect class="c1" x="565.3" y="-2.3" width="12.4" height="4.6"/></g>
<g id="ScLEA1-6" class="r" transform="translate(0,945.1)"><text x="127.7" y="2.1">ScLEA1-6</text><rect class="e" x="190" y="-2.2" width="12.7" height="4.4" rx="1.8"/><path class="p" d="M564.5 0H581.7"/><rect class="c1" x="565.3" y="-2.3" width="12.4" height="4.6"/></g>
<g id="ScLEA1-7" class="r" transform="translate(0,955.4)"><text x="127.7" y="2.1">ScLEA1-7</text><path class="i" d="M190 0H512.3"/><rect class="e" x="190" y="-2.2" width="2.7" height="4.4" rx="1.3"/><rect class="e" x="197.3" y="-2.2" width="25.4" height="4.4" rx="1.8"/><rect class="e" x="490.3" y="-2.2" width="22" height="4.4" rx="1.8"/><path class="p" d="M564.5 0H634.3"/><rect class="co" x="574" y="-2.3" width="31" height="4.6"/><rect class="c1" x="617.7" y="-2.3" width="12.6" height="4.6"/></g>
<g id="ScLEA1-8" class="r" transform="translate(0,965.6)"><text x="127.7" y="2.1">ScLEA1-8</text><rect class="e" x="190" y="-2.2" width="11.7" height="4.4" rx="1.8"/><path class="p" d="M564.5 0H580"/><rect class="c1" x="565.3" y="-2.3" width="12.4" height="4.6"/></g>
<g id="ScLEA1-10" class="r" transform="translate(0,975.9)"><text x="127.7" y="2.1">ScLEA1-10</text><path class="i" d="M190 0H249.3"/><rect class="e" x="190" y="-2.2" width="11.7" height="4.4" rx="1.8"/><rect class="e" x="244" y="-2.2" width="5.3" height="4.4" rx="1.8"/><path class="p" d="M564.5 0H589"/><rect class="c1" x="565.3" y="-2.3" width="12.4" height="4.6"/></g>
<g id="ScLEA1-9" class="r" transform="translate(0,986.1)"><text x="127.7" y="2.1">ScLEA1-9</text><path class="i" d="M190 0H213.7"/><rect class="e" x="190" y="-2.2" width="5.7" height="4.4" rx="1.8"/><rect class="e" x="199.3" y="-2.2" width="14.4" height="4.4" rx="1.8"/><path class="p" d="M564.5 0H592.3"/><rect class="c1" x="577.3" y="-2.3" width="12.7" height="4.6"/></g>
<g id="ScLEA1-11" class="r" transform="translate(0,996.4)"><text x="127.7" y="2.1">ScLEA1-11</text><path class="i" d="M190 0H430"/><rect class="e" x="190" y="-2.2" width="2.7" height="4.4" rx="1.3"/><rect class="e" x="412" y="-2.2" width="18" height="4.4" rx="1.8"/><path class="p" d="M564.5 0H591.7"/><rect class="c1" x="570.7" y="-2.3" width="12.3" height="4.6"/></g>
<g id="ScLEA1-2" class="r" transform="translate(0,1006.7)"><text x="127.7" y="2.1">ScLEA1-2</text><rect class="e" x="190" y="-2.2" width="14.3" height="4.4" rx="1.8"/><path class="p" d="M564.5 0H583.3"/><rect class="c1" x="565.3" y="-2.3" width="12" height="4.6"/></g>
<g id="ScLEA1-3" class="r" transform="translate(0,1016.9)"><text x="127.7" y="2.1">ScLEA1-3</text><rect class="e" x="190" y="-2.2" width="15" height="4.4" rx="1.8"/><path class="p" d="M564.5 0H585.7"/><rect class="c1" x="565.3" y="-2.3" width="12.4" height="4.6"/></g>
<g id="ScLEA1-4" class="r" transform="translate(0,1027.2)"><text x="127.7" y="2.1">ScLEA1-4</text><path class="i" d="M190 0H206.7"/><rect class="e" x="190" y="-2.2" width="3.3" height="4.4" rx="1.6"/><rect class="e" x="200" y="-2.2" width="6.7" height="4.4" rx="1.8"/><path class="p" d="M564.5 0H579"/><rect class="c1" x="565.3" y="-2.3" width="12.4" height="4.6"/></g>
<g id="ScLEA1-5" class="r" transform="translate(0,1037.4)"><text x="127.7" y="2.1">ScLEA1-5</text><path class="i" d="M190 0H206.7"/><rect class="e" x="190" y="-2.2" width="6.7" height="4.4" rx="1.8"/><rect class="e" x="203" y="-2.2" width="3.7" height="4.4" rx="1.8"/><path class="p" d="M564.5 0H579"/><rect class="c1" x="565.3" y="-2.3" width="12.4" height="4.6"/></g>
<g id="ScLEA1-12" class="r" transform="translate(0,1047.7)"><text x="127.7" y="2.1">ScLEA1-12</text><rect class="e" x="190" y="-2.2" width="20" height="4.4" rx="1.8"/><path class="p" d="M564.5 0H592.7"/><rect class="c1" x="567.3" y="-2.3" width="11.4" height="4.6"/></g>
<g id="ScLEA1-13" class="r" transform="translate(0,1058)"><text x="127.7" y="2.1">ScLEA1-13</text><path class="i" d="M190 0H210"/><rect class="e" x="190" y="-2.2" width="3.7" height="4.4" rx="1.8"/><rect class="e" x="198" y="-2.2" width="12" height="4.4" rx="1.8"/><path class="p" d="M564.5 0H587"/><rect class="c1" x="565.3" y="-2.3" width="13.7" height="4.6"/></g>
<g id="ScLEA1-14" class="r" transform="translate(0,1068.2)"><text x="127.7" y="2.1">ScLEA1-14</text><rect class="e" x="190" y="-2.2" width="22.7" height="4.4" rx="1.8"/><path class="p" d="M564.5 0H595.7"/><rect class="c1" x="570.7" y="-2.3" width="12.6" height="4.6"/></g>
<g id="ScSMP-1" class="r" transform="translate(0,1078.5)"><text x="127.7" y="2.1">ScSMP-1</text><path class="i" d="M190 0H220.7"/><rect class="e" x="190" y="-2.2" width="17.7" height="4.4" rx="1.8"/><rect class="e" x="212.7" y="-2.2" width="8" height="4.4" rx="1.8"/><path class="p" d="M564.5 0H598.3"/><rect class="cs" x="587.7" y="-2.3" width="10.6" height="4.6"/></g>
<g id="ScSMP-2" class="r" transform="translate(0,1088.7)"><text x="127.7" y="2.1">ScSMP-2</text><path class="i" d="M190 0H230.7"/><rect class="e" x="190" y="-2.2" width="29" height="4.4" rx="1.8"/><rect class="e" x="223.3" y="-2.2" width="7.4" height="4.4" rx="1.8"/><path class="p" d="M564.5 0H613.3"/><rect class="cs" x="568.7" y="-2.3" width="10.3" height="4.6"/><rect class="cs" x="590.3" y="-2.3" width="10.7" height="4.6"/><rect class="cs" x="602.7" y="-2.3" width="10.6" height="4.6"/></g>
<g id="ScSMP-4" class="r" transform="translate(0,1099)"><text x="127.7" y="2.1">ScSMP-4</text><path class="i" d="M190 0H236.7"/><rect class="e" x="190" y="-2.2" width="34" height="4.4" rx="1.8"/><rect class="e" x="229.3" y="-2.2" width="7.4" height="4.4" rx="1.8"/><path class="p" d="M564.5 0H619.7"/><rect class="cs" x="576" y="-2.3" width="10" height="4.6"/><rect class="cs" x="600.3" y="-2.3" width="4.7" height="4.6"/><rect class="cs" x="609.7" y="-2.3" width="10" height="4.6"/></g>
<g id="ScSMP-5" class="r" transform="translate(0,1109.3)"><text x="127.7" y="2.1">ScSMP-5</text><path class="i" d="M190 0H233.3"/><rect class="e" x="190" y="-2.2" width="30" height="4.4" rx="1.8"/><rect class="e" x="224.7" y="-2.2" width="8.6" height="4.4" rx="1.8"/><path class="p" d="M564.5 0H616.7"/><rect class="cs" x="570.3" y="-2.3" width="10" height="4.6"/><rect class="cs" x="592" y="-2.3" width="7.3" height="4.6"/><rect class="cs" x="607.3" y="-2.3" width="9.4" height="4.6"/></g>
<g id="ScSMP-6" class="r" transform="translate(0,1119.5)"><text x="127.7" y="2.1">ScSMP-6</text><path class="i" d="M190 0H232.3"/><rect class="e" x="190" y="-2.2" width="30" height="4.4" rx="1.8"/><rect class="e" x="225.3" y="-2.2" width="7" height="4.4" rx="1.8"/><path class="p" d="M564.5 0H615"/><rect class="cs" x="604.3" y="-2.3" width="10.7" height="4.6"/></g>
<g id="ScSMP-7" class="r" transform="translate(0,1129.8)"><text x="127.7" y="2.1">ScSMP-7</text><path class="i" d="M190 0H232.3"/><rect class="e" x="190" y="-2.2" width="30" height="4.4" rx="1.8"/><rect class="e" x="225.3" y="-2.2" width="7" height="4.4" rx="1.8"/><path class="p" d="M564.5 0H615"/><rect class="cs" x="604.3" y="-2.3" width="10.7" height="4.6"/></g>
<g id="ScSMP-3" class="r" transform="translate(0,1140)"><text x="127.7" y="2.1">ScSMP-3</text><path class="i" d="M190 0H227"/><rect class="e" x="190" y="-2.2" width="10" height="4.4" rx="1.8"/><rect class="e" x="208.3" y="-2.2" width="18.7" height="4.4" rx="1.8"/><path class="p" d="M564.5 0H602.3"/><rect class="cs" x="594.3" y="-2.3" width="8" height="4.6"/></g>
<g id="ScLEA6-1" class="r" transform="translate(0,1150.3)"><text x="127.7" y="2.1">ScLEA6-1</text><rect class="e" x="190" y="-2.2" width="16" height="4.4" rx="1.8"/><path class="p" d="M564.5 0H588"/><rect class="c6" x="571" y="-2.3" width="17" height="4.6"/></g>
<g id="ScLEA6-2" class="r" transform="translate(0,1160.6)"><text x="127.7" y="2.1">ScLEA6-2</text><rect class="e" x="190" y="-2.2" width="16.7" height="4.4" rx="1.8"/><path class="p" d="M564.5 0H589"/><rect class="c6" x="571.8" y="-2.3" width="17.2" height="4.6"/></g>
</g>
<g id="gene-axis">
<path class="ax" d="M189.3 1170H511.3M189.3 1169V1171.6M235.3 1169V1171.6M281.3 1169V1171.6M327.3 1169V1171.6M373.3 1169V1171.6M419.3 1169V1171.6M465.3 1169V1171.6M511.3 1169V1171.6"/>
<text class="tk" x="184.3" y="1167.5">5'</text><text class="tk" x="515.5" y="1167.5">3'</text>
<text class="tk" x="187.5" y="1176">0 kb</text><text class="tk" x="233.5" y="1176">1 kb</text><text class="tk" x="279.5" y="1176">2 kb</text><text class="tk" x="325.5" y="1176">3 kb</text><text class="tk" x="371.5" y="1176">4 kb</text><text class="tk" x="417.5" y="1176">5 kb</text><text class="tk" x="463.5" y="1176">6 kb</text><text class="tk" x="509.5" y="1176">7 kb</text>
</g>
<g id="domain-axis">
<path class="ax" d="M563.1 1170H712.7M565 1169V1171.6M601.7 1169V1171.6M638.3 1169V1171.6M675 1169V1171.6M711.7 1169V1171.6"/>
<text class="tk" x="564" y="1176">0</text><text class="tk" x="600.7" y="1176">200 bp</text><text class="tk" x="637.4" y="1176">400 bp</text><text class="tk" x="674.1" y="1176">600 bp</text><text class="tk" x="699.8" y="1176" word-spacing="4.8">800 bp</text>
</g>
<g id="domain-legend" class="lg">
<text x="445" y="23.5" style="font-size:10.5px;letter-spacing:.2px">Domain</text>
<rect class="c1" x="451" y="28.05" width="5.3" height="5.3"/><text x="460.3" y="33.6">LEA-1</text>
<rect class="c2" x="451" y="37.25" width="5.3" height="5.3"/><text x="460.3" y="42.8">LEA-2</text>
<rect class="c3" x="451" y="46.45" width="5.3" height="5.3"/><text x="460.3" y="52">LEA-3</text>
<rect class="c4" x="451" y="55.65" width="5.3" height="5.3"/><text x="460.3" y="61.2">LEA-4</text>
<rect class="c5" x="451" y="64.85" width="5.3" height="5.3"/><text x="460.3" y="70.4">LEA-5</text>
<rect class="c6" x="451" y="74.15" width="5.3" height="5.3"/><text x="460.3" y="79.7">LEA-6</text>
<rect class="cs" x="451" y="83.35" width="5.3" height="5.3"/><text x="460.3" y="88.9">SMP</text>
<rect class="cd" x="451" y="92.55" width="5.3" height="5.3"/><text x="460.3" y="98.1">Dehydrin</text>
<rect class="wy" x="451" y="101.75" width="5.3" height="5.3"/><text x="460.3" y="107.3">Why</text>
<rect class="co" x="451" y="110.95" width="5.3" height="5.3"/><text x="460.3" y="116.5">OPT superfamily</text>
<rect class="vw" x="451" y="120.15" width="5.3" height="5.3"/><text x="460.3" y="125.7">vWFA superfamily</text>
<rect class="cg" x="451" y="129.35" width="5.3" height="5.3"/><text x="460.3" y="134.9">2A1904 superfamily</text>
</g>
<g id="gs-legend">
<text x="127.7" y="1189.3" style="font-size:7.5px;fill:#333">Legend:</text>
<rect class="e" x="128" y="1194.9" width="9.7" height="3.6" rx="1.5"/>
<text x="140.7" y="1198.7" style="font-size:6px;fill:#333">Exon</text>
<path class="i" d="M163.3 1196.7H174.3"/>
<text x="176.3" y="1198.7" style="font-size:6px;fill:#333">Intron</text>
</g>
</svg>
